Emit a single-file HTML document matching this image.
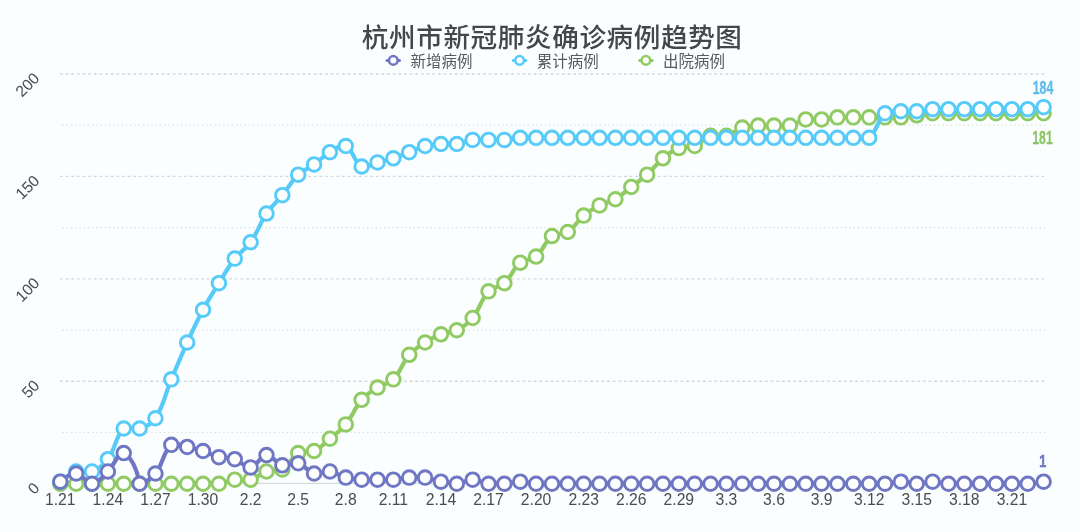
<!DOCTYPE html>
<html lang="zh-CN"><head><meta charset="utf-8"><title>杭州市新冠肺炎确诊病例趋势图</title>
<style>
html,body{margin:0;padding:0;background:#fafefe;}
body{width:1080px;height:532px;overflow:hidden;}
svg{display:block;}
.t{font-family:"Liberation Sans","Noto Sans CJK SC",sans-serif;}
.title{font-size:26.6px;letter-spacing:0.6px;font-weight:500;fill:#444648;}
.leg{font-size:15.5px;font-weight:400;fill:#555a5f;}
.ax{font-size:15.7px;fill:#4a4d50;}
.val{font-size:19.6px;font-weight:700;stroke-width:0.25px;}
</style></head><body>
<svg width="1080" height="532" viewBox="0 0 1080 532">
<rect width="1080" height="532" fill="#fafefe"/>
<line x1="62.5" x2="1046" y1="432.49" y2="432.49" stroke="#d8dcdf" stroke-width="1.2" stroke-dasharray="1.3 2.93"/>
<line x1="60" x2="1046" y1="381.27" y2="381.27" stroke="#d3d7da" stroke-width="1.3" stroke-dasharray="2.8 2.84"/>
<line x1="62.5" x2="1046" y1="330.06" y2="330.06" stroke="#d8dcdf" stroke-width="1.2" stroke-dasharray="1.3 2.93"/>
<line x1="60" x2="1046" y1="278.85" y2="278.85" stroke="#d3d7da" stroke-width="1.3" stroke-dasharray="2.8 2.84"/>
<line x1="62.5" x2="1046" y1="227.64" y2="227.64" stroke="#d8dcdf" stroke-width="1.2" stroke-dasharray="1.3 2.93"/>
<line x1="60" x2="1046" y1="176.42" y2="176.42" stroke="#d3d7da" stroke-width="1.3" stroke-dasharray="2.8 2.84"/>
<line x1="62.5" x2="1046" y1="125.21" y2="125.21" stroke="#d8dcdf" stroke-width="1.2" stroke-dasharray="1.3 2.93"/>
<line x1="60" x2="1046" y1="74" y2="74" stroke="#d3d7da" stroke-width="1.3" stroke-dasharray="2.8 2.84"/>
<line x1="60" x2="1046" y1="483.3" y2="483.3" stroke="#cfd3d6" stroke-width="1"/>
<text class="t ax" text-anchor="end" transform="translate(40.5 489) rotate(-45)">0</text>
<text class="t ax" text-anchor="end" transform="translate(40.5 386.57) rotate(-45)">50</text>
<text class="t ax" text-anchor="end" transform="translate(40.5 284.15) rotate(-45)">100</text>
<text class="t ax" text-anchor="end" transform="translate(40.5 181.72) rotate(-45)">150</text>
<text class="t ax" text-anchor="end" transform="translate(40.5 79.3) rotate(-45)">200</text>
<text class="t ax" text-anchor="middle" x="60.3" y="504.6">1.21</text>
<text class="t ax" text-anchor="middle" x="107.88" y="504.6">1.24</text>
<text class="t ax" text-anchor="middle" x="155.46" y="504.6">1.27</text>
<text class="t ax" text-anchor="middle" x="203.04" y="504.6">1.30</text>
<text class="t ax" text-anchor="middle" x="250.62" y="504.6">2.2</text>
<text class="t ax" text-anchor="middle" x="298.2" y="504.6">2.5</text>
<text class="t ax" text-anchor="middle" x="345.78" y="504.6">2.8</text>
<text class="t ax" text-anchor="middle" x="393.36" y="504.6">2.11</text>
<text class="t ax" text-anchor="middle" x="440.94" y="504.6">2.14</text>
<text class="t ax" text-anchor="middle" x="488.52" y="504.6">2.17</text>
<text class="t ax" text-anchor="middle" x="536.1" y="504.6">2.20</text>
<text class="t ax" text-anchor="middle" x="583.68" y="504.6">2.23</text>
<text class="t ax" text-anchor="middle" x="631.26" y="504.6">2.26</text>
<text class="t ax" text-anchor="middle" x="678.84" y="504.6">2.29</text>
<text class="t ax" text-anchor="middle" x="726.42" y="504.6">3.3</text>
<text class="t ax" text-anchor="middle" x="774" y="504.6">3.6</text>
<text class="t ax" text-anchor="middle" x="821.58" y="504.6">3.9</text>
<text class="t ax" text-anchor="middle" x="869.16" y="504.6">3.12</text>
<text class="t ax" text-anchor="middle" x="916.74" y="504.6">3.15</text>
<text class="t ax" text-anchor="middle" x="964.32" y="504.6">3.18</text>
<text class="t ax" text-anchor="middle" x="1011.9" y="504.6">3.21</text>
<g stroke="#90ca63" fill="none">
<path d="M60.3 483.75C60.3 483.75 69.82 483.4 76.16 483.75C82.5 483.4 85.68 483.4 92.02 483.75C98.36 483.4 101.54 483.4 107.88 483.75C114.22 483.4 117.4 483.4 123.74 483.75C130.08 483.4 133.26 483.4 139.6 483.75C145.94 483.4 149.12 483.4 155.46 483.75C161.8 483.4 164.98 483.4 171.32 483.75C177.66 483.4 180.84 483.4 187.18 483.75C193.52 483.4 196.7 483.4 203.04 483.75C209.38 483.4 212.66 483.4 218.9 483.75C225.35 482.92 228.31 480.49 234.76 479.66C241 478.85 244.65 481.2 250.62 479.66C257.34 477.92 259.79 473.63 266.48 471.47C272.48 469.53 277.11 472.46 282.34 469.42C289.8 465.09 290.74 457.38 298.2 453.05C303.43 450.01 308.43 453.54 314.06 451C321.12 447.81 323.78 443.87 329.92 438.72C336.47 433.23 340.42 430.96 345.78 424.39C353.11 415.41 354.11 408.57 361.64 399.83C366.8 393.83 370.79 391.88 377.5 387.55C383.47 383.7 388.55 384.33 393.36 379.36C401.24 371.23 401.69 363.54 409.22 354.8C414.38 348.81 418.37 346.85 425.08 342.52C431.05 338.67 434.32 336.9 440.94 334.33C447.01 331.98 451.1 333.18 456.8 330.24C463.78 326.63 467.67 324.07 472.66 317.96C480.36 308.52 480.47 300.18 488.52 291.35C493.16 286.26 499.2 287.84 504.38 283.16C511.89 276.38 512.58 269.12 520.24 262.7C525.27 258.48 531.07 260.77 536.1 256.56C543.76 250.13 544.19 242.11 551.96 236.09C556.88 232.28 562.52 235.42 567.82 231.99C575.2 227.23 576.74 221.44 583.68 215.62C589.43 210.8 592.87 208.83 599.54 205.39C605.55 202.28 609.58 202.63 615.4 199.24C622.27 195.26 624.92 191.88 631.26 186.96C637.6 182.05 641.18 180.05 647.12 174.68C653.87 168.59 656.04 164.13 662.98 158.31C668.73 153.49 671.97 150.73 678.84 148.07C684.66 145.82 688.88 148.28 694.7 146.03C701.57 143.37 703.67 138.02 710.56 135.79C716.35 133.92 720.45 137.33 726.42 135.79C733.14 134.06 735.59 129.77 742.28 127.61C748.28 125.67 751.77 125.97 758.14 125.56C764.46 125.15 767.66 125.56 774 125.56C780.34 125.56 783.74 126.75 789.86 125.56C796.43 124.29 799.15 120.69 805.72 119.42C811.84 118.23 815.26 119.83 821.58 119.42C827.95 119.01 831.07 117.78 837.44 117.37C843.76 116.97 846.96 117.37 853.3 117.37C859.64 117.37 862.82 117.37 869.16 117.37C875.5 117.37 878.68 117.37 885.02 117.37C891.36 117.37 894.56 117.78 900.88 117.37C907.25 116.96 910.4 116.14 916.74 115.33C923.08 114.51 926.23 113.69 932.6 113.28C938.92 112.87 942.12 113.28 948.46 113.28C954.8 113.28 957.98 113.28 964.32 113.28C970.66 113.28 973.84 113.28 980.18 113.28C986.52 113.28 989.7 113.28 996.04 113.28C1002.38 113.28 1005.56 113.28 1011.9 113.28C1018.24 113.28 1021.42 113.28 1027.76 113.28C1034.1 113.28 1043.62 113.28 1043.62 113.28" stroke-width="4.2" stroke-linejoin="round" stroke-linecap="round"/>
<g fill="#fdfefe" stroke-width="2.9">
<circle cx="60.3" cy="483.75" r="6.8"/>
<circle cx="76.16" cy="483.75" r="6.8"/>
<circle cx="92.02" cy="483.75" r="6.8"/>
<circle cx="107.88" cy="483.75" r="6.8"/>
<circle cx="123.74" cy="483.75" r="6.8"/>
<circle cx="139.6" cy="483.75" r="6.8"/>
<circle cx="155.46" cy="483.75" r="6.8"/>
<circle cx="171.32" cy="483.75" r="6.8"/>
<circle cx="187.18" cy="483.75" r="6.8"/>
<circle cx="203.04" cy="483.75" r="6.8"/>
<circle cx="218.9" cy="483.75" r="6.8"/>
<circle cx="234.76" cy="479.66" r="6.8"/>
<circle cx="250.62" cy="479.66" r="6.8"/>
<circle cx="266.48" cy="471.47" r="6.8"/>
<circle cx="282.34" cy="469.42" r="6.8"/>
<circle cx="298.2" cy="453.05" r="6.8"/>
<circle cx="314.06" cy="451" r="6.8"/>
<circle cx="329.92" cy="438.72" r="6.8"/>
<circle cx="345.78" cy="424.39" r="6.8"/>
<circle cx="361.64" cy="399.83" r="6.8"/>
<circle cx="377.5" cy="387.55" r="6.8"/>
<circle cx="393.36" cy="379.36" r="6.8"/>
<circle cx="409.22" cy="354.8" r="6.8"/>
<circle cx="425.08" cy="342.52" r="6.8"/>
<circle cx="440.94" cy="334.33" r="6.8"/>
<circle cx="456.8" cy="330.24" r="6.8"/>
<circle cx="472.66" cy="317.96" r="6.8"/>
<circle cx="488.52" cy="291.35" r="6.8"/>
<circle cx="504.38" cy="283.16" r="6.8"/>
<circle cx="520.24" cy="262.7" r="6.8"/>
<circle cx="536.1" cy="256.56" r="6.8"/>
<circle cx="551.96" cy="236.09" r="6.8"/>
<circle cx="567.82" cy="231.99" r="6.8"/>
<circle cx="583.68" cy="215.62" r="6.8"/>
<circle cx="599.54" cy="205.39" r="6.8"/>
<circle cx="615.4" cy="199.24" r="6.8"/>
<circle cx="631.26" cy="186.96" r="6.8"/>
<circle cx="647.12" cy="174.68" r="6.8"/>
<circle cx="662.98" cy="158.31" r="6.8"/>
<circle cx="678.84" cy="148.07" r="6.8"/>
<circle cx="694.7" cy="146.03" r="6.8"/>
<circle cx="710.56" cy="135.79" r="6.8"/>
<circle cx="726.42" cy="135.79" r="6.8"/>
<circle cx="742.28" cy="127.61" r="6.8"/>
<circle cx="758.14" cy="125.56" r="6.8"/>
<circle cx="774" cy="125.56" r="6.8"/>
<circle cx="789.86" cy="125.56" r="6.8"/>
<circle cx="805.72" cy="119.42" r="6.8"/>
<circle cx="821.58" cy="119.42" r="6.8"/>
<circle cx="837.44" cy="117.37" r="6.8"/>
<circle cx="853.3" cy="117.37" r="6.8"/>
<circle cx="869.16" cy="117.37" r="6.8"/>
<circle cx="885.02" cy="117.37" r="6.8"/>
<circle cx="900.88" cy="117.37" r="6.8"/>
<circle cx="916.74" cy="115.33" r="6.8"/>
<circle cx="932.6" cy="113.28" r="6.8"/>
<circle cx="948.46" cy="113.28" r="6.8"/>
<circle cx="964.32" cy="113.28" r="6.8"/>
<circle cx="980.18" cy="113.28" r="6.8"/>
<circle cx="996.04" cy="113.28" r="6.8"/>
<circle cx="1011.9" cy="113.28" r="6.8"/>
<circle cx="1027.76" cy="113.28" r="6.8"/>
<circle cx="1043.62" cy="113.28" r="6.8"/>
</g></g>
<g stroke="#56cbfa" fill="none">
<path d="M60.3 481.7C60.3 481.7 69.27 473.69 76.16 471.47C81.95 469.6 86.42 473.64 92.02 471.47C99.11 468.73 103.22 465.5 107.88 459.19C115.91 448.31 115.04 436.9 123.74 428.49C127.73 424.62 133.81 430.36 139.6 428.49C146.49 426.26 151.53 424.35 155.46 418.25C164.21 404.7 164.83 394.86 171.32 379.36C177.52 364.57 180.53 357.12 187.18 342.52C193.22 329.28 196.19 322.6 203.04 309.77C208.87 298.85 212.37 293.69 218.9 283.16C225.06 273.23 227.63 267.8 234.76 258.6C240.32 251.43 245.41 249.62 250.62 242.23C258.1 231.61 259.2 224.38 266.48 213.57C271.89 205.55 276.2 202.68 282.34 195.15C288.88 187.13 290.86 181.79 298.2 174.68C303.55 169.51 307.91 168.82 314.06 164.45C320.6 159.81 323.05 156.16 329.92 152.17C335.74 148.79 340.75 143.76 345.78 146.03C353.44 149.49 353.87 162.48 361.64 166.5C366.56 169.03 371.16 164.04 377.5 162.4C383.84 160.76 387.14 160.32 393.36 158.31C399.82 156.22 402.88 154.62 409.22 152.17C415.56 149.71 418.54 147.72 425.08 146.03C431.23 144.44 434.57 144.39 440.94 143.98C447.26 143.57 450.56 144.79 456.8 143.98C463.25 143.15 466.21 140.72 472.66 139.89C478.9 139.08 482.18 139.89 488.52 139.89C494.86 139.89 498.06 140.3 504.38 139.89C510.75 139.48 513.87 138.25 520.24 137.84C526.56 137.43 529.76 137.84 536.1 137.84C542.44 137.84 545.62 137.84 551.96 137.84C558.3 137.84 561.48 137.84 567.82 137.84C574.16 137.84 577.34 137.84 583.68 137.84C590.02 137.84 593.2 137.84 599.54 137.84C605.88 137.84 609.06 137.84 615.4 137.84C621.74 137.84 624.92 137.84 631.26 137.84C637.6 137.84 640.78 137.84 647.12 137.84C653.46 137.84 656.64 137.84 662.98 137.84C669.32 137.84 672.5 137.84 678.84 137.84C685.18 137.84 688.36 137.84 694.7 137.84C701.04 137.84 704.22 137.84 710.56 137.84C716.9 137.84 720.08 137.84 726.42 137.84C732.76 137.84 735.94 137.84 742.28 137.84C748.62 137.84 751.8 137.84 758.14 137.84C764.48 137.84 767.66 137.84 774 137.84C780.34 137.84 783.52 137.84 789.86 137.84C796.2 137.84 799.38 137.84 805.72 137.84C812.06 137.84 815.24 137.84 821.58 137.84C827.92 137.84 831.1 137.84 837.44 137.84C843.78 137.84 846.96 137.84 853.3 137.84C859.64 137.84 864.7 141.3 869.16 137.84C877.39 131.47 876.82 120.16 885.02 113.28C889.51 109.52 894.51 111.64 900.88 111.23C907.2 110.82 910.42 111.64 916.74 111.23C923.11 110.82 926.23 109.6 932.6 109.19C938.92 108.78 942.12 109.19 948.46 109.19C954.8 109.19 957.98 109.19 964.32 109.19C970.66 109.19 973.84 109.19 980.18 109.19C986.52 109.19 989.7 109.19 996.04 109.19C1002.38 109.19 1005.56 109.19 1011.9 109.19C1018.24 109.19 1021.44 109.59 1027.76 109.19C1034.13 108.77 1043.62 107.14 1043.62 107.14" stroke-width="4.2" stroke-linejoin="round" stroke-linecap="round"/>
<g fill="#fdfefe" stroke-width="2.9">
<circle cx="60.3" cy="481.7" r="6.8"/>
<circle cx="76.16" cy="471.47" r="6.8"/>
<circle cx="92.02" cy="471.47" r="6.8"/>
<circle cx="107.88" cy="459.19" r="6.8"/>
<circle cx="123.74" cy="428.49" r="6.8"/>
<circle cx="139.6" cy="428.49" r="6.8"/>
<circle cx="155.46" cy="418.25" r="6.8"/>
<circle cx="171.32" cy="379.36" r="6.8"/>
<circle cx="187.18" cy="342.52" r="6.8"/>
<circle cx="203.04" cy="309.77" r="6.8"/>
<circle cx="218.9" cy="283.16" r="6.8"/>
<circle cx="234.76" cy="258.6" r="6.8"/>
<circle cx="250.62" cy="242.23" r="6.8"/>
<circle cx="266.48" cy="213.57" r="6.8"/>
<circle cx="282.34" cy="195.15" r="6.8"/>
<circle cx="298.2" cy="174.68" r="6.8"/>
<circle cx="314.06" cy="164.45" r="6.8"/>
<circle cx="329.92" cy="152.17" r="6.8"/>
<circle cx="345.78" cy="146.03" r="6.8"/>
<circle cx="361.64" cy="166.5" r="6.8"/>
<circle cx="377.5" cy="162.4" r="6.8"/>
<circle cx="393.36" cy="158.31" r="6.8"/>
<circle cx="409.22" cy="152.17" r="6.8"/>
<circle cx="425.08" cy="146.03" r="6.8"/>
<circle cx="440.94" cy="143.98" r="6.8"/>
<circle cx="456.8" cy="143.98" r="6.8"/>
<circle cx="472.66" cy="139.89" r="6.8"/>
<circle cx="488.52" cy="139.89" r="6.8"/>
<circle cx="504.38" cy="139.89" r="6.8"/>
<circle cx="520.24" cy="137.84" r="6.8"/>
<circle cx="536.1" cy="137.84" r="6.8"/>
<circle cx="551.96" cy="137.84" r="6.8"/>
<circle cx="567.82" cy="137.84" r="6.8"/>
<circle cx="583.68" cy="137.84" r="6.8"/>
<circle cx="599.54" cy="137.84" r="6.8"/>
<circle cx="615.4" cy="137.84" r="6.8"/>
<circle cx="631.26" cy="137.84" r="6.8"/>
<circle cx="647.12" cy="137.84" r="6.8"/>
<circle cx="662.98" cy="137.84" r="6.8"/>
<circle cx="678.84" cy="137.84" r="6.8"/>
<circle cx="694.7" cy="137.84" r="6.8"/>
<circle cx="710.56" cy="137.84" r="6.8"/>
<circle cx="726.42" cy="137.84" r="6.8"/>
<circle cx="742.28" cy="137.84" r="6.8"/>
<circle cx="758.14" cy="137.84" r="6.8"/>
<circle cx="774" cy="137.84" r="6.8"/>
<circle cx="789.86" cy="137.84" r="6.8"/>
<circle cx="805.72" cy="137.84" r="6.8"/>
<circle cx="821.58" cy="137.84" r="6.8"/>
<circle cx="837.44" cy="137.84" r="6.8"/>
<circle cx="853.3" cy="137.84" r="6.8"/>
<circle cx="869.16" cy="137.84" r="6.8"/>
<circle cx="885.02" cy="113.28" r="6.8"/>
<circle cx="900.88" cy="111.23" r="6.8"/>
<circle cx="916.74" cy="111.23" r="6.8"/>
<circle cx="932.6" cy="109.19" r="6.8"/>
<circle cx="948.46" cy="109.19" r="6.8"/>
<circle cx="964.32" cy="109.19" r="6.8"/>
<circle cx="980.18" cy="109.19" r="6.8"/>
<circle cx="996.04" cy="109.19" r="6.8"/>
<circle cx="1011.9" cy="109.19" r="6.8"/>
<circle cx="1027.76" cy="109.19" r="6.8"/>
<circle cx="1043.62" cy="107.14" r="6.8"/>
</g></g>
<g stroke="#6f76c3" fill="none">
<path d="M60.3 481.7C60.3 481.7 69.99 473.12 76.16 473.52C82.68 473.94 85.87 483.4 92.02 483.75C98.56 483.33 102.14 477.02 107.88 471.47C114.83 464.74 118.5 451.02 123.74 453.05Q135.24 460.05 139.6 483.75C144.08 483.4 150.82 479.2 155.46 473.52C163.51 463.65 162.79 452.01 171.32 444.86C175.48 441.37 180.91 445.69 187.18 446.91C193.6 448.15 196.82 448.99 203.04 451C209.5 453.09 212.36 455.45 218.9 457.14C225.05 458.73 228.76 457.25 234.76 459.19C241.45 461.35 244.65 468.15 250.62 467.38C257.33 466.51 259.94 455.52 266.48 455.09C272.63 454.7 275.47 463.56 282.34 465.33C288.16 466.83 292.38 461.78 298.2 463.28C305.07 465.05 307.19 471.74 314.06 473.52C319.88 475.02 323.77 470.68 329.92 471.47C336.46 472.31 339.24 475.92 345.78 477.61C351.93 479.2 355.27 479.25 361.64 479.66C367.96 480.06 371.16 479.66 377.5 479.66C383.84 479.66 387.04 480.06 393.36 479.66C399.73 479.25 402.85 478.02 409.22 477.61C415.54 477.2 418.84 476.8 425.08 477.61C431.53 478.44 434.52 480.46 440.94 481.7C447.21 482.92 450.53 483.4 456.8 483.75C463.22 483.34 466.32 479.66 472.66 479.66C479 479.66 482.07 482.92 488.52 483.75C494.76 483.4 498.06 483.4 504.38 483.75C510.75 483.34 513.9 481.7 520.24 481.7C526.58 481.7 529.73 483.34 536.1 483.75C542.42 483.4 545.62 483.4 551.96 483.75C558.3 483.4 561.48 483.4 567.82 483.75C574.16 483.4 577.34 483.4 583.68 483.75C590.02 483.4 593.2 483.4 599.54 483.75C605.88 483.4 609.06 483.4 615.4 483.75C621.74 483.4 624.92 483.4 631.26 483.75C637.6 483.4 640.78 483.4 647.12 483.75C653.46 483.4 656.64 483.4 662.98 483.75C669.32 483.4 672.5 483.4 678.84 483.75C685.18 483.4 688.36 483.4 694.7 483.75C701.04 483.4 704.22 483.4 710.56 483.75C716.9 483.4 720.08 483.4 726.42 483.75C732.76 483.4 735.94 483.4 742.28 483.75C748.62 483.4 751.8 483.4 758.14 483.75C764.48 483.4 767.66 483.4 774 483.75C780.34 483.4 783.52 483.4 789.86 483.75C796.2 483.4 799.38 483.4 805.72 483.75C812.06 483.4 815.24 483.4 821.58 483.75C827.92 483.4 831.1 483.4 837.44 483.75C843.78 483.4 846.96 483.4 853.3 483.75C859.64 483.4 862.82 483.4 869.16 483.75C875.5 483.4 878.7 483.4 885.02 483.75C891.39 483.34 894.54 481.7 900.88 481.7C907.22 481.7 910.4 483.4 916.74 483.75C923.08 483.4 926.26 481.7 932.6 481.7C938.94 481.7 942.09 483.34 948.46 483.75C954.78 483.4 957.98 483.4 964.32 483.75C970.66 483.4 973.84 483.4 980.18 483.75C986.52 483.4 989.7 483.4 996.04 483.75C1002.38 483.4 1005.56 483.4 1011.9 483.75C1018.24 483.4 1021.44 483.4 1027.76 483.75C1034.13 483.34 1043.62 481.7 1043.62 481.7" stroke-width="4.2" stroke-linejoin="round" stroke-linecap="round"/>
<g fill="#fdfefe" stroke-width="2.9">
<circle cx="60.3" cy="481.7" r="6.8"/>
<circle cx="76.16" cy="473.52" r="6.8"/>
<circle cx="92.02" cy="483.75" r="6.8"/>
<circle cx="107.88" cy="471.47" r="6.8"/>
<circle cx="123.74" cy="453.05" r="6.8"/>
<circle cx="139.6" cy="483.75" r="6.8"/>
<circle cx="155.46" cy="473.52" r="6.8"/>
<circle cx="171.32" cy="444.86" r="6.8"/>
<circle cx="187.18" cy="446.91" r="6.8"/>
<circle cx="203.04" cy="451" r="6.8"/>
<circle cx="218.9" cy="457.14" r="6.8"/>
<circle cx="234.76" cy="459.19" r="6.8"/>
<circle cx="250.62" cy="467.38" r="6.8"/>
<circle cx="266.48" cy="455.09" r="6.8"/>
<circle cx="282.34" cy="465.33" r="6.8"/>
<circle cx="298.2" cy="463.28" r="6.8"/>
<circle cx="314.06" cy="473.52" r="6.8"/>
<circle cx="329.92" cy="471.47" r="6.8"/>
<circle cx="345.78" cy="477.61" r="6.8"/>
<circle cx="361.64" cy="479.66" r="6.8"/>
<circle cx="377.5" cy="479.66" r="6.8"/>
<circle cx="393.36" cy="479.66" r="6.8"/>
<circle cx="409.22" cy="477.61" r="6.8"/>
<circle cx="425.08" cy="477.61" r="6.8"/>
<circle cx="440.94" cy="481.7" r="6.8"/>
<circle cx="456.8" cy="483.75" r="6.8"/>
<circle cx="472.66" cy="479.66" r="6.8"/>
<circle cx="488.52" cy="483.75" r="6.8"/>
<circle cx="504.38" cy="483.75" r="6.8"/>
<circle cx="520.24" cy="481.7" r="6.8"/>
<circle cx="536.1" cy="483.75" r="6.8"/>
<circle cx="551.96" cy="483.75" r="6.8"/>
<circle cx="567.82" cy="483.75" r="6.8"/>
<circle cx="583.68" cy="483.75" r="6.8"/>
<circle cx="599.54" cy="483.75" r="6.8"/>
<circle cx="615.4" cy="483.75" r="6.8"/>
<circle cx="631.26" cy="483.75" r="6.8"/>
<circle cx="647.12" cy="483.75" r="6.8"/>
<circle cx="662.98" cy="483.75" r="6.8"/>
<circle cx="678.84" cy="483.75" r="6.8"/>
<circle cx="694.7" cy="483.75" r="6.8"/>
<circle cx="710.56" cy="483.75" r="6.8"/>
<circle cx="726.42" cy="483.75" r="6.8"/>
<circle cx="742.28" cy="483.75" r="6.8"/>
<circle cx="758.14" cy="483.75" r="6.8"/>
<circle cx="774" cy="483.75" r="6.8"/>
<circle cx="789.86" cy="483.75" r="6.8"/>
<circle cx="805.72" cy="483.75" r="6.8"/>
<circle cx="821.58" cy="483.75" r="6.8"/>
<circle cx="837.44" cy="483.75" r="6.8"/>
<circle cx="853.3" cy="483.75" r="6.8"/>
<circle cx="869.16" cy="483.75" r="6.8"/>
<circle cx="885.02" cy="483.75" r="6.8"/>
<circle cx="900.88" cy="481.7" r="6.8"/>
<circle cx="916.74" cy="483.75" r="6.8"/>
<circle cx="932.6" cy="481.7" r="6.8"/>
<circle cx="948.46" cy="483.75" r="6.8"/>
<circle cx="964.32" cy="483.75" r="6.8"/>
<circle cx="980.18" cy="483.75" r="6.8"/>
<circle cx="996.04" cy="483.75" r="6.8"/>
<circle cx="1011.9" cy="483.75" r="6.8"/>
<circle cx="1027.76" cy="483.75" r="6.8"/>
<circle cx="1043.62" cy="481.7" r="6.8"/>
</g></g>
<text class="t title" text-anchor="middle" x="552.2" y="47">杭州市新冠肺炎确诊病例趋势图</text>
<g stroke="#6f76c3"><line x1="387.1" x2="399.5" y1="60.4" y2="60.4" stroke-width="3" stroke-linecap="round"/><circle cx="393.3" cy="60.4" r="4.3" fill="#fdfefe" stroke-width="2.5"/></g>
<text class="t leg" x="410.5" y="66.8">新增病例</text>
<g stroke="#56cbfa"><line x1="513.4" x2="525.8" y1="60.4" y2="60.4" stroke-width="3" stroke-linecap="round"/><circle cx="519.6" cy="60.4" r="4.3" fill="#fdfefe" stroke-width="2.5"/></g>
<text class="t leg" x="536.8" y="66.8">累计病例</text>
<g stroke="#90ca63"><line x1="639.7" x2="652.1" y1="60.4" y2="60.4" stroke-width="3" stroke-linecap="round"/><circle cx="645.9" cy="60.4" r="4.3" fill="#fdfefe" stroke-width="2.5"/></g>
<text class="t leg" x="663.1" y="66.8">出院病例</text>
<text class="t val" text-anchor="middle" fill="#5bbcee" stroke="#5bbcee" style="font-size:19.2px;stroke-width:0.25px" transform="translate(1043 94.2) scale(0.64 1)">184</text>
<text class="t val" text-anchor="middle" fill="#8cc466" stroke="#8cc466" style="font-size:19.2px;stroke-width:0.25px" transform="translate(1042.5 144.4) scale(0.64 1)">181</text>
<text class="t val" text-anchor="middle" fill="#6f76c3" stroke="#6f76c3" style="font-size:17.2px;stroke-width:0.6px" transform="translate(1042.8 467.1) scale(0.74 1)">1</text>
</svg></body></html>
